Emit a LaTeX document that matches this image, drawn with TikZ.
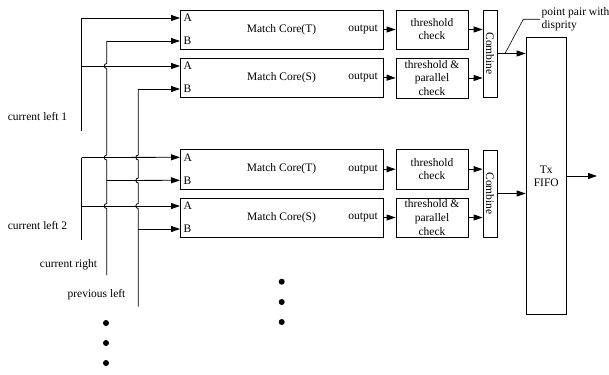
\documentclass[tikz,border=0pt]{standalone}
\usepackage{fontspec}
\setmainfont{Liberation Serif}
\usetikzlibrary{arrows.meta}
\newcommand\hopv[2]{-- ({#1},{#2-2.5}) .. controls ({#1-3.3},{#2-2.5}) and ({#1-3.3},{#2+2.5}) .. ({#1},{#2+2.5})}
\begin{document}
\begin{tikzpicture}[x=1pt,y=-1pt,
  every node/.style={font=\fontsize{11.5}{13}\selectfont, inner sep=0pt},
  box/.style={draw, line width=0.8pt},
  wire/.style={line width=0.8pt},
  arr/.style={wire,-{Triangle[length=9pt,width=6pt]}},
  dot/.style={circle, fill, minimum size=6pt}]
\useasboundingbox (0,0) rectangle (609,374);
% match cores
\node[box, minimum width=203pt, minimum height=39pt] (mcT1) at (281.5,29.5) {Match Core(T)};
\node[box, minimum width=203pt, minimum height=39pt] (mcS1) at (281.5,77.5) {Match Core(S)};
\node[box, minimum width=203pt, minimum height=39.5pt] (mcT2) at (281.5,169.2) {Match Core(T)};
\node[box, minimum width=203pt, minimum height=39pt] (mcS2) at (281.5,217.5) {Match Core(S)};
\foreach \n/\t in {mcT1/10, mcS1/58, mcT2/149.3, mcS2/198}{
  \node[anchor=west] (\n a) at (183.5,\t+8) {A};
  \node[anchor=west] (\n b) at (183.5,\t+31) {B};
  \coordinate (\n A) at (180,\t+8);
  \coordinate (\n B) at (180,\t+31);
}
\node (oT1) at (363,29.5) {output};
\node (oS1) at (363,77.5) {output};
\node (oT2) at (363,169.2) {output};
\node (oS2) at (363,217.5) {output};
% threshold boxes
\node[box, minimum width=72pt, minimum height=39pt, align=center] (thT1) at (432,29.5) {threshold\\check};
\node[box, minimum width=72pt, minimum height=40pt, align=center, font=\fontsize{11.5}{13.7}\selectfont] (thS1) at (432,78) {threshold \&\\parallel\\check};
\node[box, minimum width=72pt, minimum height=39.5pt, align=center] (thT2) at (432,169.2) {threshold\\check};
\node[box, minimum width=72pt, minimum height=39pt, align=center, font=\fontsize{11.5}{13.7}\selectfont] (thS2) at (432,217.5) {threshold \&\\parallel\\check};
\foreach \a/\b in {mcT1/thT1, mcS1/thS1, mcT2/thT2, mcS2/thS2}{
  \draw[arr] (\a.east) -- (\b.west);
}
% combine
\node[box, minimum width=14pt, minimum height=87pt] (cb1) at (490,53.5) {};
\node[rotate=-90] at (cb1.center) {Combine};
\node[box, minimum width=14pt, minimum height=87pt] (cb2) at (490,193.5) {};
\node[rotate=-90] at (cb2.center) {Combine};
\draw[arr] (thT1.east) -- (thT1.east -| cb1.west);
\draw[arr] (thS1.east) -- (thS1.east -| cb1.west);
\draw[arr] (thT2.east) -- (thT2.east -| cb2.west);
\draw[arr] (thS2.east) -- (thS2.east -| cb2.west);
% FIFO
\node[box, minimum width=40.5pt, minimum height=277pt] (fifo) at (546.3,175.8) {};
\node[align=center] (fifot) at (546.3,176) {Tx\\FIFO};
\coordinate (fout) at (597,176);
\draw[arr] (fifo.east |- fout) -- (fout);
\draw[arr] (cb1.east) -- (cb1.east -| fifo.west);
\draw[arr] (cb2.east) -- (cb2.east -| fifo.west);
% leader label
\node[anchor=west, align=left, font=\fontsize{11.5}{12.7}\selectfont] (pp) at (541.5,19.5) {point pair with\\disprity};
\coordinate (ld) at (505,53.5);
\draw[wire, line width=0.6pt] (ld) -- (523.3,19.3) -- (540,19.3);
% input buses
\coordinate (cl1t) at (81.7,18);
\coordinate (cl1m) at (81.7,66);
\coordinate (cl1b) at (81.7,131);
\draw[wire] (cl1t) -- (cl1b);
\draw[arr] (cl1t) -- (mcT1A);
\draw[arr] (cl1m) -- (mcS1A);
\coordinate (cl2t) at (81.7,157.5);
\coordinate (cl2m) at (81.7,206);
\coordinate (cl2b) at (81.7,240);
\draw[wire] (cl2t) -- (cl2b);
\draw[arr] (cl2t) -- (mcT2A);
\draw[arr] (cl2m) -- (mcS2A);
\coordinate (crt) at (106.7,41);
\coordinate (crm) at (106.7,180.5);
\coordinate (crb) at (106.7,275);
\draw[wire] (crt) \hopv{106.7}{66} \hopv{106.7}{157.5} \hopv{106.7}{206} -- (crb);
\draw[arr] (crt) -- (mcT1B);
\draw[arr] (crm) -- (mcT2B);
\coordinate (plt) at (138.3,89);
\coordinate (plm) at (138.3,229);
\coordinate (plb) at (138.3,306.7);
\draw[wire] (plt) \hopv{138.3}{157.5} \hopv{138.3}{180.5} \hopv{138.3}{206} -- (plb);
\draw[arr] (plt) -- (mcS1B);
\draw[arr] (plm) -- (mcS2B);
% labels
\node (lcl1) at (37.5,117) {current left 1};
\node (lcl2) at (37.5,226) {current left 2};
\node (lcr) at (68.5,265) {current right};
\node (lpl) at (96.5,295) {previous left};
% dots
\foreach \y [count=\i] in {323,343,363}{\node[dot] (db\i) at (106,\y) {};}
\foreach \y [count=\i] in {281.7,302,322}{\node[dot] (dm\i) at (281.7,\y) {};}
\end{tikzpicture}
\end{document}
